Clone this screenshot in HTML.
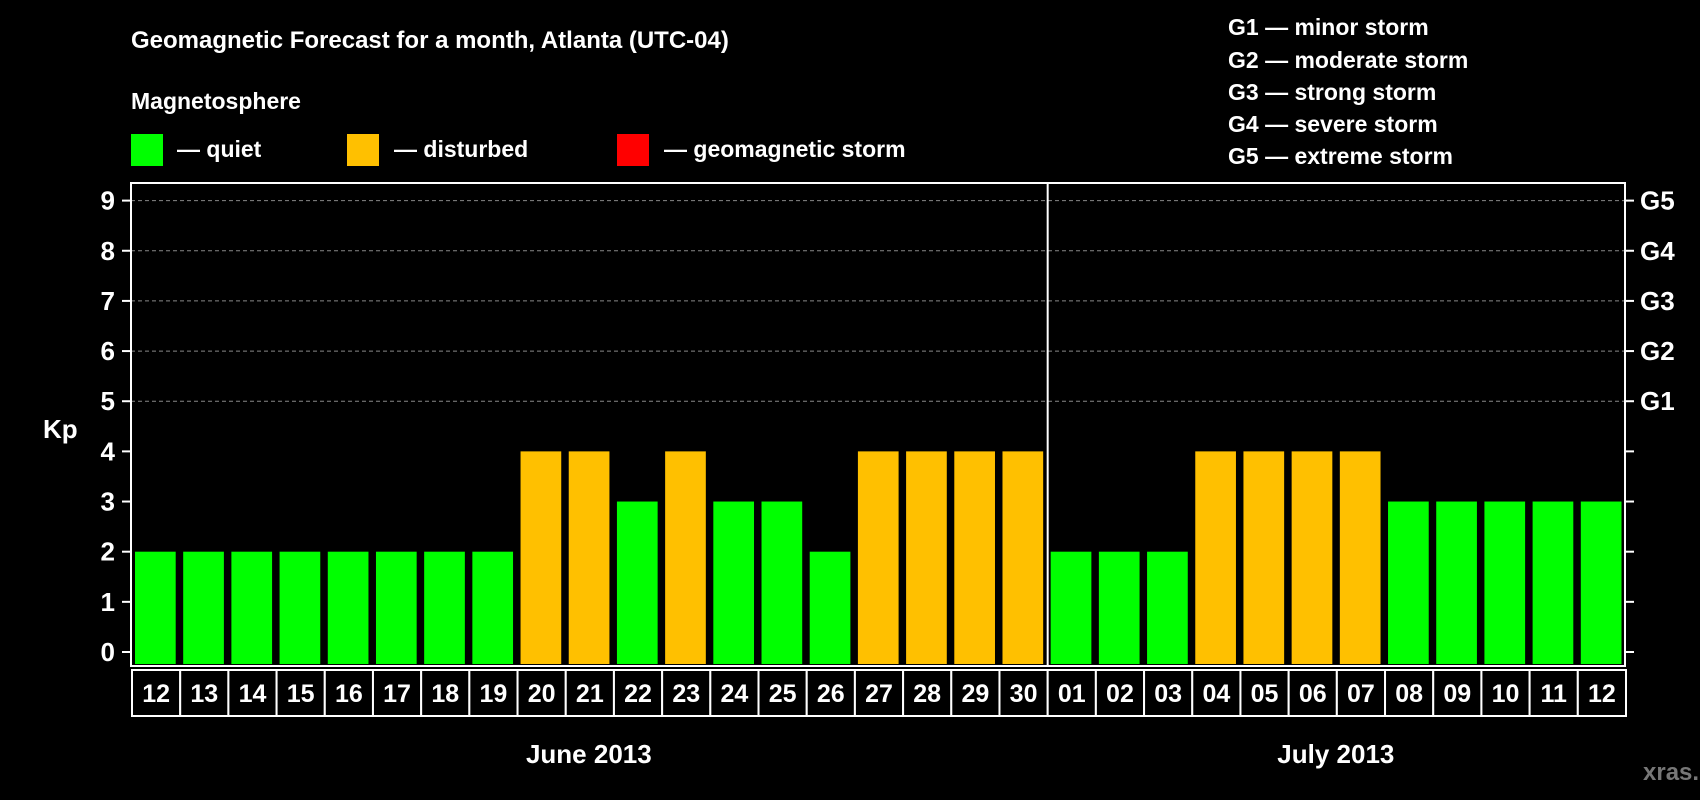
<!DOCTYPE html>
<html><head><meta charset="utf-8"><style>
html,body{margin:0;padding:0;background:#000;}
svg{display:block;font-family:"Liberation Sans",Arial,sans-serif;font-weight:bold;}
</style></head><body>
<svg id="chart" width="1700" height="800" viewBox="0 0 1700 800">
<rect width="1700" height="800" fill="#000"/>
<text x="131" y="48" fill="#fff" font-size="24">Geomagnetic Forecast for a month, Atlanta (UTC-04)</text>
<text x="131" y="109" fill="#fff" font-size="23">Magnetosphere</text>
<g><rect x="131" y="134" width="32" height="32" fill="#00ff00"/><text x="177" y="157" fill="#fff" font-size="23">— quiet</text></g>
<g><rect x="347" y="134" width="32" height="32" fill="#ffc000"/><text x="394" y="157" fill="#fff" font-size="23">— disturbed</text></g>
<g><rect x="617" y="134" width="32" height="32" fill="#ff0000"/><text x="664" y="157" fill="#fff" font-size="23">— geomagnetic storm</text></g>
<g fill="#fff" font-size="23">
<text x="1228" y="35">G1 — minor storm</text>
<text x="1228" y="68">G2 — moderate storm</text>
<text x="1228" y="100">G3 — strong storm</text>
<text x="1228" y="132">G4 — severe storm</text>
<text x="1228" y="164">G5 — extreme storm</text>
</g>
<text x="43" y="438" fill="#fff" font-size="26">Kp</text>
<g id="plot"></g>
<text x="1643" y="780" fill="#777" font-size="24">xras.ru</text>
</svg>
<script>
const days = ["12","13","14","15","16","17","18","19","20","21","22","23","24","25","26","27","28","29","30","01","02","03","04","05","06","07","08","09","10","11","12"];
const kpValues = [2,2,2,2,2,2,2,2,4,4,3,4,3,3,2,4,4,4,4,2,2,2,4,4,4,4,3,3,3,3,3];
const yTicks = [0,1,2,3,4,5,6,7,8,9];
const gLabels = ["G1","G2","G3","G4","G5"];
const months = ["June 2013","July 2013"];
const monthDayCounts = [19,12];

const NS="http://www.w3.org/2000/svg";
const L=131,R=1625,T=183,B=666;
const y0=652,y9=200.6;
const yScale=v=>y0+(y9-y0)*v/9;
const slot=(R-L)/days.length;
const xScale=i=>L+i*slot;
const g=document.getElementById('plot');
function mk(tag,attrs,parent){const e=document.createElementNS(NS,tag);for(const k in attrs)e.setAttribute(k,attrs[k]);(parent||g).appendChild(e);return e;}
function color(v){return v>=5?"#ff0000":(v>=4?"#ffc000":"#00ff00");}

// gridlines 5..9
yTicks.forEach(v=>{
  if(v>=5){const ln=mk('line',{x1:L,x2:R,y1:yScale(v),y2:yScale(v),stroke:'#888','stroke-dasharray':'4,3','stroke-width':1});
  
  }
  const t=mk('line',{x1:L-9,x2:L,y1:yScale(v),y2:yScale(v),stroke:'#fff','stroke-width':2});
  
  
  const t2=mk('line',{x1:R,x2:R+9,y1:yScale(v),y2:yScale(v),stroke:'#fff','stroke-width':2});
  
  
  const lb=mk('text',{x:L-16,y:yScale(v)+9,fill:'#fff','font-size':26,'text-anchor':'end'});
  lb.textContent=v;
  
  
});
gLabels.forEach((s,i)=>{
  const lb=mk('text',{x:R+15,y:yScale(i+5)+9,fill:'#fff','font-size':26});
  lb.textContent=s;
  
  
});
// bars
kpValues.forEach((v,i)=>{
  const b=mk('rect',{x:xScale(i)+4,y:yScale(v),width:slot-7.5,height:B-2-yScale(v),fill:color(v)});
  
  
});
// frame
const fr=mk('rect',{x:L,y:T,width:R-L,height:B-T,fill:'none',stroke:'#fff','stroke-width':2});


const dv=mk('line',{x1:xScale(monthDayCounts[0])+1,x2:xScale(monthDayCounts[0])+1,y1:T,y2:B,stroke:'#fff','stroke-width':2});


// day label boxes
days.forEach((d,i)=>{
  const bx=mk('rect',{x:xScale(i)+1,y:670,width:slot,height:46,fill:'#000',stroke:'#fff','stroke-width':2});
  
  
  const t=mk('text',{x:xScale(i)+slot/2+1,y:702,fill:'#fff','font-size':25,'text-anchor':'middle'});
  t.textContent=d;
  
  
});
let start=0;
months.forEach((m,k)=>{
  const cx=xScale(start+monthDayCounts[k]/2);
  const t=mk('text',{x:cx,y:763,fill:'#fff','font-size':26,'text-anchor':'middle'});
  t.textContent=m;
  
  
  start+=monthDayCounts[k];
});
</script>
</body></html>
